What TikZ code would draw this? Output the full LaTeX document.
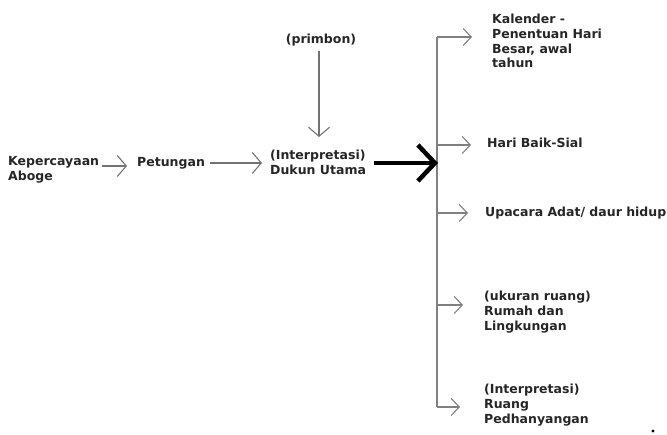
\documentclass[tikz,border=0pt]{standalone}
\usepackage{fontspec}
\setmainfont{DejaVu Sans}
\usetikzlibrary{arrows.meta}

\tikzset{
  lbl/.style={font=\bfseries\fontsize{12.5pt}{14.8pt}\selectfont, text=black!85,
    inner sep=0pt, align=left, anchor=west},
  thin arrow/.style={draw=black!55, line width=1.1pt,
    -{Straight Barb[length=9pt,width=21pt,line width=1.1pt]}},
  branch/.style={draw=black!50, line width=1.1pt,
    -{Straight Barb[length=8pt,width=17pt,line width=1.1pt]}},
  main arrow/.style={draw=black, line width=4.5pt,
    -{Straight Barb[length=17pt,width=36pt,line width=4.5pt]}},
}

\begin{document}
\begin{tikzpicture}[x=1pt,y=-1pt]
  \useasboundingbox (0,0) rectangle (667,435);

  % source chain
  \node[lbl] (keper) at (8,170) {Kepercayaan\\Aboge};
  \node[lbl] (petung) at (137,163) {Petungan};
  \node[lbl] (dukun) at (270,162) {(Interpretasi)\\Dukun Utama};
  \node[lbl, anchor=center] (primbon) at (321,40) {(primbon)};

  \draw[thin arrow] (keper.east |- 0,166) ++(3,0) -- (127,166);
  \draw[thin arrow] (petung.east) ++(5,0) -- (262,163);
  \draw[thin arrow] (primbon.south -| 319,0) ++(0,5) -- (319,137);

  % trunk of the fan-out
  \coordinate (tTop) at (437,37);
  \coordinate (tHari) at (437,145);
  \coordinate (tMain) at (438,163);
  \coordinate (tUpa) at (437,213);
  \coordinate (tUkur) at (437,305);
  \coordinate (tBot) at (437,407);
  \draw[draw=black!50, line width=1.1pt] (tTop) -- (tBot);

  \draw[main arrow] (dukun.east |- tMain) ++(8,0) -- (tMain);

  % targets
  \node[lbl] (kal) at (492,41) {Kalender -\\Penentuan Hari\\Besar, awal\\tahun};
  \node[lbl] (hari) at (487,143) {Hari Baik-Sial};
  \node[lbl] (upa) at (485,213) {Upacara Adat/ daur hidup};
  \node[lbl] (ukur) at (484,312) {(ukuran ruang)\\Rumah dan\\Lingkungan};
  \node[lbl] (ruang) at (484,405) {(Interpretasi)\\Ruang\\Pedhanyangan};

  \coordinate (aKal) at (472,37);
  \coordinate (aHari) at (471,145);
  \coordinate (aUpa) at (468,213);
  \coordinate (aUkur) at (463,305);
  \coordinate (aBot) at (460,407);
  \draw[branch] (tTop) -- (aKal);
  \draw[branch] (tHari) -- (aHari);
  \draw[branch] (tUpa) -- (aUpa);
  \draw[branch] (tUkur) -- (aUkur);
  \draw[branch] (tBot) -- (aBot);

  \fill[black] (653,431) circle (1.6pt);
\end{tikzpicture}
\end{document}
